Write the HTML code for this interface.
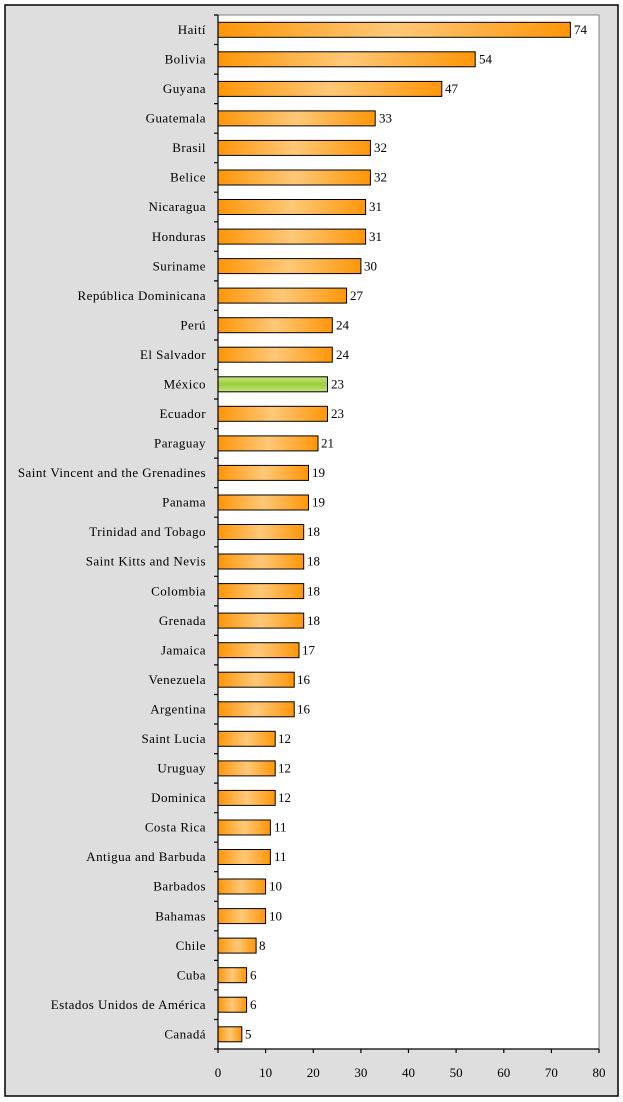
<!DOCTYPE html>
<html><head><meta charset="utf-8"><style>html,body{margin:0;padding:0;background:#fff}svg{display:block}</style></head><body>
<svg width="623" height="1102" xmlns="http://www.w3.org/2000/svg" font-family="'Liberation Serif', serif" font-size="13">
<defs>
<linearGradient id="o" x1="0" y1="0" x2="1" y2="0"><stop offset="0" stop-color="#FF9608"/><stop offset="0.5" stop-color="#FFC878"/><stop offset="1" stop-color="#FF9608"/></linearGradient>
<linearGradient id="g" x1="0" y1="0" x2="0" y2="1"><stop offset="0" stop-color="#C6E67A"/><stop offset="0.5" stop-color="#9CCC3C"/><stop offset="1" stop-color="#C6E67A"/></linearGradient>
</defs>
<rect x="5" y="5" width="613" height="1091" fill="#DEDEDE" stroke="#000" stroke-width="1.5"/>
<rect x="218" y="15" width="381" height="1034" fill="#fff" stroke="#808080" stroke-width="1"/>
<g stroke="#000" stroke-width="1">
<rect x="218" y="22.3" width="352.4" height="15" fill="url(#o)"/>
<rect x="218" y="51.8" width="257.2" height="15" fill="url(#o)"/>
<rect x="218" y="81.4" width="223.8" height="15" fill="url(#o)"/>
<rect x="218" y="110.9" width="157.2" height="15" fill="url(#o)"/>
<rect x="218" y="140.4" width="152.4" height="15" fill="url(#o)"/>
<rect x="218" y="170" width="152.4" height="15" fill="url(#o)"/>
<rect x="218" y="199.5" width="147.6" height="15" fill="url(#o)"/>
<rect x="218" y="229.1" width="147.6" height="15" fill="url(#o)"/>
<rect x="218" y="258.6" width="142.9" height="15" fill="url(#o)"/>
<rect x="218" y="288.1" width="128.6" height="15" fill="url(#o)"/>
<rect x="218" y="317.7" width="114.3" height="15" fill="url(#o)"/>
<rect x="218" y="347.2" width="114.3" height="15" fill="url(#o)"/>
<rect x="218" y="376.8" width="109.5" height="15" fill="url(#g)"/>
<rect x="218" y="406.3" width="109.5" height="15" fill="url(#o)"/>
<rect x="218" y="435.9" width="100" height="15" fill="url(#o)"/>
<rect x="218" y="465.4" width="90.5" height="15" fill="url(#o)"/>
<rect x="218" y="495" width="90.5" height="15" fill="url(#o)"/>
<rect x="218" y="524.5" width="85.7" height="15" fill="url(#o)"/>
<rect x="218" y="554" width="85.7" height="15" fill="url(#o)"/>
<rect x="218" y="583.6" width="85.7" height="15" fill="url(#o)"/>
<rect x="218" y="613.1" width="85.7" height="15" fill="url(#o)"/>
<rect x="218" y="642.7" width="81" height="15" fill="url(#o)"/>
<rect x="218" y="672.2" width="76.2" height="15" fill="url(#o)"/>
<rect x="218" y="701.8" width="76.2" height="15" fill="url(#o)"/>
<rect x="218" y="731.3" width="57.2" height="15" fill="url(#o)"/>
<rect x="218" y="760.9" width="57.2" height="15" fill="url(#o)"/>
<rect x="218" y="790.4" width="57.2" height="15" fill="url(#o)"/>
<rect x="218" y="820" width="52.4" height="15" fill="url(#o)"/>
<rect x="218" y="849.5" width="52.4" height="15" fill="url(#o)"/>
<rect x="218" y="879" width="47.6" height="15" fill="url(#o)"/>
<rect x="218" y="908.6" width="47.6" height="15" fill="url(#o)"/>
<rect x="218" y="938.1" width="38.1" height="15" fill="url(#o)"/>
<rect x="218" y="967.7" width="28.6" height="15" fill="url(#o)"/>
<rect x="218" y="997.2" width="28.6" height="15" fill="url(#o)"/>
<rect x="218" y="1026.8" width="23.8" height="15" fill="url(#o)"/>
</g>
<g stroke="#000" stroke-width="1.2">
<line x1="218" y1="15" x2="218" y2="1049"/>
<line x1="218" y1="1049" x2="599" y2="1049"/>
<path d="M214 15H218M214 44.5H218M214 74.1H218M214 103.6H218M214 133.2H218M214 162.7H218M214 192.2H218M214 221.8H218M214 251.3H218M214 280.9H218M214 310.4H218M214 340H218M214 369.5H218M214 399H218M214 428.6H218M214 458.1H218M214 487.7H218M214 517.2H218M214 546.8H218M214 576.3H218M214 605.9H218M214 635.4H218M214 664.9H218M214 694.5H218M214 724H218M214 753.6H218M214 783.1H218M214 812.7H218M214 842.2H218M214 871.7H218M214 901.3H218M214 930.8H218M214 960.4H218M214 989.9H218M214 1019.5H218M214 1049H218"/>
<path d="M218 1049V1053M265.6 1049V1053M313.3 1049V1053M360.9 1049V1053M408.5 1049V1053M456.1 1049V1053M503.8 1049V1053M551.4 1049V1053M599 1049V1053"/>
</g>
<g text-anchor="end" letter-spacing="0.45">
<text x="206" y="34">Haití</text>
<text x="206" y="63.5">Bolivia</text>
<text x="206" y="93">Guyana</text>
<text x="206" y="122.6">Guatemala</text>
<text x="206" y="152.1">Brasil</text>
<text x="206" y="181.7">Belice</text>
<text x="206" y="211.2">Nicaragua</text>
<text x="206" y="240.8">Honduras</text>
<text x="206" y="270.3">Suriname</text>
<text x="206" y="299.8">República Dominicana</text>
<text x="206" y="329.4">Perú</text>
<text x="206" y="358.9">El Salvador</text>
<text x="206" y="388.5">México</text>
<text x="206" y="418">Ecuador</text>
<text x="206" y="447.6">Paraguay</text>
<text x="206" y="477.1">Saint Vincent and the Grenadines</text>
<text x="206" y="506.7">Panama</text>
<text x="206" y="536.2">Trinidad and Tobago</text>
<text x="206" y="565.7">Saint Kitts and Nevis</text>
<text x="206" y="595.3">Colombia</text>
<text x="206" y="624.8">Grenada</text>
<text x="206" y="654.4">Jamaica</text>
<text x="206" y="683.9">Venezuela</text>
<text x="206" y="713.5">Argentina</text>
<text x="206" y="743">Saint Lucia</text>
<text x="206" y="772.6">Uruguay</text>
<text x="206" y="802.1">Dominica</text>
<text x="206" y="831.7">Costa Rica</text>
<text x="206" y="861.2">Antigua and Barbuda</text>
<text x="206" y="890.7">Barbados</text>
<text x="206" y="920.3">Bahamas</text>
<text x="206" y="949.8">Chile</text>
<text x="206" y="979.4">Cuba</text>
<text x="206" y="1008.9">Estados Unidos de América</text>
<text x="206" y="1038.5">Canadá</text>
</g>
<g>
<text x="574" y="34">74</text>
<text x="479" y="63.5">54</text>
<text x="445" y="93">47</text>
<text x="379" y="122.6">33</text>
<text x="374" y="152.1">32</text>
<text x="374" y="181.7">32</text>
<text x="369" y="211.2">31</text>
<text x="369" y="240.8">31</text>
<text x="364" y="270.3">30</text>
<text x="350" y="299.8">27</text>
<text x="336" y="329.4">24</text>
<text x="336" y="358.9">24</text>
<text x="331" y="388.5">23</text>
<text x="331" y="418">23</text>
<text x="321" y="447.6">21</text>
<text x="312" y="477.1">19</text>
<text x="312" y="506.7">19</text>
<text x="307" y="536.2">18</text>
<text x="307" y="565.7">18</text>
<text x="307" y="595.3">18</text>
<text x="307" y="624.8">18</text>
<text x="302" y="654.4">17</text>
<text x="297" y="683.9">16</text>
<text x="297" y="713.5">16</text>
<text x="278" y="743">12</text>
<text x="278" y="772.6">12</text>
<text x="278" y="802.1">12</text>
<text x="274" y="831.7">11</text>
<text x="274" y="861.2">11</text>
<text x="269" y="890.7">10</text>
<text x="269" y="920.3">10</text>
<text x="259" y="949.8">8</text>
<text x="250" y="979.4">6</text>
<text x="250" y="1008.9">6</text>
<text x="245" y="1038.5">5</text>
</g>
<g text-anchor="middle">
<text x="218" y="1077">0</text>
<text x="265.6" y="1077">10</text>
<text x="313.3" y="1077">20</text>
<text x="360.9" y="1077">30</text>
<text x="408.5" y="1077">40</text>
<text x="456.1" y="1077">50</text>
<text x="503.8" y="1077">60</text>
<text x="551.4" y="1077">70</text>
<text x="599" y="1077">80</text>
</g>
</svg>
</body></html>
